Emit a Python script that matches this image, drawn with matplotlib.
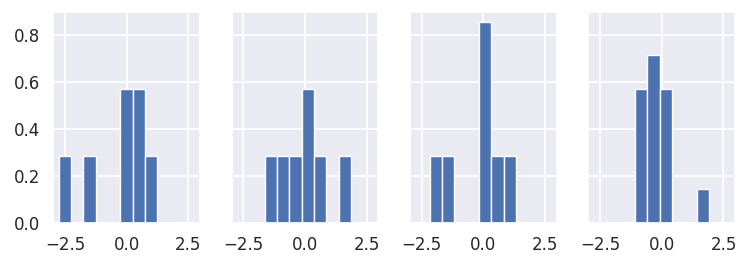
"""Four density histograms side by side, sharing the y axis."""

import matplotlib
matplotlib.use("Agg")
import matplotlib.pyplot as plt
import seaborn as sns

# bin centres and density heights (bin width 0.5)
centers_a = [-2.5, -1.5, 0.0, 0.5, 1.0]
heights_a = [0.286, 0.286, 0.571, 0.571, 0.286]

centers_b = [-1.38, -0.88, -0.38, 0.12, 0.62, 1.62]
heights_b = [0.286, 0.286, 0.286, 0.571, 0.286, 0.286]

centers_c = [-1.93, -1.43, 0.07, 0.57, 1.07]
heights_c = [0.286, 0.286, 0.857, 0.286, 0.286]

centers_d = [-0.84, -0.34, 0.16, 1.66]
heights_d = [0.571, 0.714, 0.571, 0.143]

bin_width = 0.5

sns.set_theme(style="darkgrid")
plt.rcParams["font.family"] = ["DejaVu Sans"]
plt.rcParams["grid.linewidth"] = 1.3

fig, axes = plt.subplots(1, 4, sharey=True, figsize=(7.48, 2.65), dpi=100)
fig.subplots_adjust(left=0.071, right=0.983, bottom=0.16, top=0.956,
                    wspace=0.215)

panels = [(centers_a, heights_a), (centers_b, heights_b),
          (centers_c, heights_c), (centers_d, heights_d)]

for ax, (cx, hy) in zip(axes, panels):
    ax.bar(cx, hy, width=bin_width, color="#4C72B0",
           edgecolor="white", linewidth=1.0)
    ax.set_xlim(-2.98, 2.98)
    ax.set_xticks([-2.5, 0.0, 2.5])
    ax.tick_params(labelsize=12)

axes[0].set_ylim(0, 0.9)
axes[0].set_yticks([0.0, 0.2, 0.4, 0.6, 0.8])

fig.savefig("out.png", dpi=100)
